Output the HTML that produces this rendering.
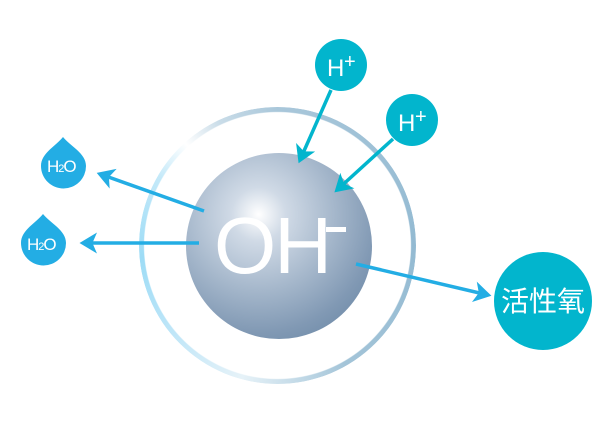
<!DOCTYPE html>
<html><head><meta charset="utf-8"><style>
html,body{margin:0;padding:0;background:#fff}
body{width:607px;height:428px;position:relative;overflow:hidden;font-family:"Liberation Sans","Noto Sans CJK SC",sans-serif}
.ring{position:absolute;left:139px;top:107px;width:277px;height:277px;border-radius:50%;
background:conic-gradient(from 0deg,#a9c7da 0deg,#93bad2 90deg,#a3c4d8 150deg,#e6f2f8 195deg,#bfe6f8 230deg,#9ddcf6 265deg,#c4e9f9 300deg,#ffffff 318deg,#c9dce8 335deg,#a9c7da 360deg);
-webkit-mask:radial-gradient(circle,transparent 133px,#000 134px);mask:radial-gradient(circle,transparent 133px,#000 134px)}
.sphere{position:absolute;left:186px;top:153px;width:186px;height:186px;border-radius:50%;
background:radial-gradient(circle at 39% 33%,#ffffff 0%,#d0dae6 16%,#a5b7cb 45%,#8199b4 70%,#5f7f9e 100%)}
.oh{position:absolute;left:214px;top:206px;color:#fff;font-size:80px;line-height:1;letter-spacing:-2px}
.minus{position:absolute;left:326px;top:227px;width:20px;height:5px;background:#fff}
svg{position:absolute;left:0;top:0}
</style></head><body>
<div class="ring"></div>
<div class="sphere"></div>
<div class="oh">OH</div><div class="minus"></div>
<svg width="607" height="428">
<defs>
<marker id="b" markerWidth="6" markerHeight="6" refX="4" refY="3" orient="auto" markerUnits="strokeWidth"><path d="M0,0 L5,3 L0,6 L1.3,3z" fill="#02b5cd"/></marker>
<marker id="c" markerWidth="6" markerHeight="6" refX="4" refY="3" orient="auto" markerUnits="strokeWidth"><path d="M0,0 L5,3 L0,6 L1.3,3z" fill="#23ade4"/></marker></defs>
<g stroke="#02b5cd" stroke-width="3.5" fill="none">
<line x1="331" y1="90" x2="300" y2="160" marker-end="url(#b)"/>
<line x1="393" y1="139" x2="337" y2="190" marker-end="url(#b)"/>
</g>
<g stroke="#23ade4" stroke-width="3.5" fill="none">
<line x1="204" y1="211" x2="100" y2="174" marker-end="url(#c)"/>
<line x1="199" y1="243" x2="83" y2="243" marker-end="url(#c)"/>
<line x1="356" y1="264" x2="488" y2="295" marker-end="url(#c)"/>
</g>
<circle cx="341" cy="65" r="26" fill="#02b5cd"/>
<circle cx="412" cy="120" r="26" fill="#02b5cd"/>
<text x="327" y="76" fill="#fff" font-size="24" font-family="Liberation Sans">H</text><text x="344" y="68" fill="#fff" font-size="20" font-family="Liberation Sans">+</text>
<text x="398" y="131" fill="#fff" font-size="24" font-family="Liberation Sans">H</text><text x="415" y="123" fill="#fff" font-size="20" font-family="Liberation Sans">+</text>
<path d="M63,137 C70,146 86,153 86,166 A22,22 0 0 1 41,166 C41,153 56,146 63,137Z" fill="#23ade4"/>
<path d="M43,214 C50,223 66,230 66,243 A22,22 0 0 1 21,243 C21,230 36,223 43,214Z" fill="#23ade4"/>
<text x="47" y="172" fill="#fff" font-size="17" font-family="Liberation Sans" letter-spacing="-1">H<tspan font-size="11">2</tspan>O</text>
<text x="27" y="250" fill="#fff" font-size="17" font-family="Liberation Sans" letter-spacing="-1">H<tspan font-size="11">2</tspan>O</text>
<circle cx="543" cy="301" r="49" fill="#02b5cd"/>
<text x="543" y="311" fill="#fff" font-size="28" text-anchor="middle" font-family="Noto Sans CJK SC, sans-serif">活性氧</text>
</svg>
</body></html>
